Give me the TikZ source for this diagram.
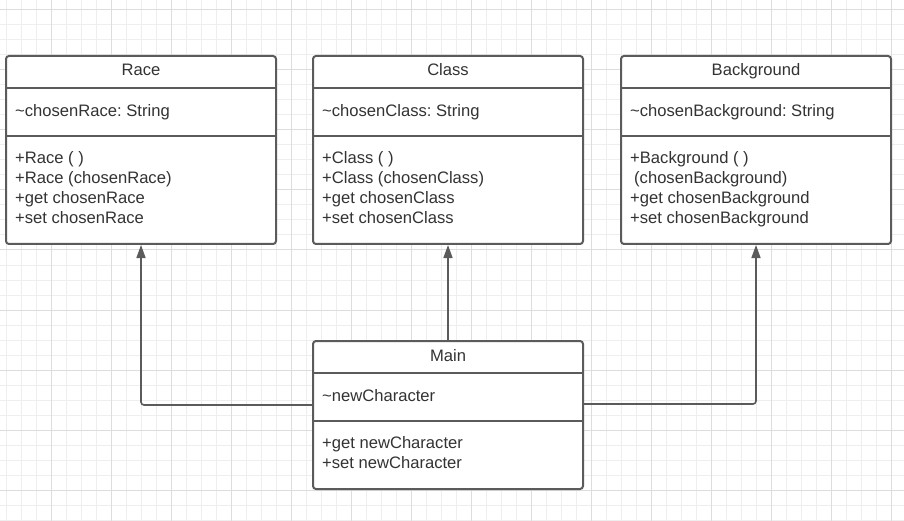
\documentclass[tikz,border=0pt]{standalone}
\usepackage{fontspec}
\setmainfont{Liberation Sans}
\frenchspacing
\usetikzlibrary{positioning,arrows.meta}

\definecolor{linegray}{HTML}{5B5B5B}
\definecolor{textgray}{HTML}{333333}
\definecolor{gridminor}{HTML}{EEEEEE}
\definecolor{gridmajor}{HTML}{DDDDDD}

\tikzset{
  classbox/.style={draw=linegray, line width=2pt, rounded corners=3pt, fill=white,
    minimum width=270pt, minimum height=188pt, inner sep=0pt},
  sep/.style={draw=linegray, line width=2pt},
  title/.style={anchor=base, inner sep=0pt, text=textgray, font=\fontsize{16.6}{20}\selectfont},
  members/.style={inner sep=0pt, text=textgray, align=left, font=\fontsize{16.6}{20}\selectfont},
  link/.style={draw=linegray, line width=1.6pt, rounded corners=3pt,
    -{Triangle[length=13pt,width=9pt]}}
}

\begin{document}
\begin{tikzpicture}[x=1pt, y=-1pt]
  \useasboundingbox (0,0) rectangle (904,521);
  \fill[white] (0,0) rectangle (904,521);

  % grid
  \foreach \x in {6.7,21.7,...,904} \draw[gridminor, line width=1pt] (\x,0) -- (\x,521);
  \foreach \y in {10,25,...,521} \draw[gridminor, line width=1pt] (0,\y) -- (904,\y);
  \foreach \x in {51.7,111.7,...,904} \draw[gridmajor, line width=1pt] (\x,0) -- (\x,521);
  \foreach \y in {10,70,...,521} \draw[gridmajor, line width=1pt] (0,\y) -- (904,\y);

  % Race
  \node[classbox] (race) at (141,150) {};
  \node[title] (racename) at (141,76) {Race};
  \node[members, anchor=base west] (raceattr) at (15,116.5) {\textasciitilde chosenRace: String};
  \node[members, anchor=north west] (raceops) at (15,151.3)
    {+Race ( )\\+Race (chosenRace)\\+get chosenRace\\+set chosenRace};
  \draw[sep] (race.west |- 0,88) -- (race.east |- 0,88);
  \draw[sep] (race.west |- 0,136) -- (race.east |- 0,136);

  % Class
  \node[classbox] (class) at (448,150) {};
  \node[title] (classname) at (448,76) {Class};
  \node[members, anchor=base west] (classattr) at (322,116.5) {\textasciitilde chosenClass: String};
  \node[members, anchor=north west] (classops) at (322,151.3)
    {+Class ( )\\+Class (chosenClass)\\+get chosenClass\\+set chosenClass};
  \draw[sep] (class.west |- 0,88) -- (class.east |- 0,88);
  \draw[sep] (class.west |- 0,136) -- (class.east |- 0,136);

  % Background
  \node[classbox] (background) at (756,150) {};
  \node[title] (backgroundname) at (756,76) {Background};
  \node[members, anchor=base west] (backgroundattr) at (630,116.5) {\textasciitilde chosenBackground: String};
  \node[members, anchor=north west] (backgroundops) at (630,151.3)
    {+Background ( )\\\hspace*{4pt}(chosenBackground)\\+get chosenBackground\\+set chosenBackground};
  \draw[sep] (background.west |- 0,88) -- (background.east |- 0,88);
  \draw[sep] (background.west |- 0,136) -- (background.east |- 0,136);

  % Main
  \node[classbox, minimum height=148pt] (main) at (448,415) {};
  \node[title] (mainname) at (448,361) {Main};
  \node[members, anchor=base west] (mainattr) at (322,401.5) {\textasciitilde newCharacter};
  \node[members, anchor=north west] (mainops) at (322,436.3)
    {+get newCharacter\\+set newCharacter};
  \draw[sep] (main.west |- 0,373) -- (main.east |- 0,373);
  \draw[sep] (main.west |- 0,421) -- (main.east |- 0,421);

  % links
  \draw[link] ([yshift=10pt]main.west) -| (race.south);
  \draw[link] (main.north) -- (class.south);
  \draw[link] ([yshift=11pt]main.east) -| (background.south);
\end{tikzpicture}
\end{document}
